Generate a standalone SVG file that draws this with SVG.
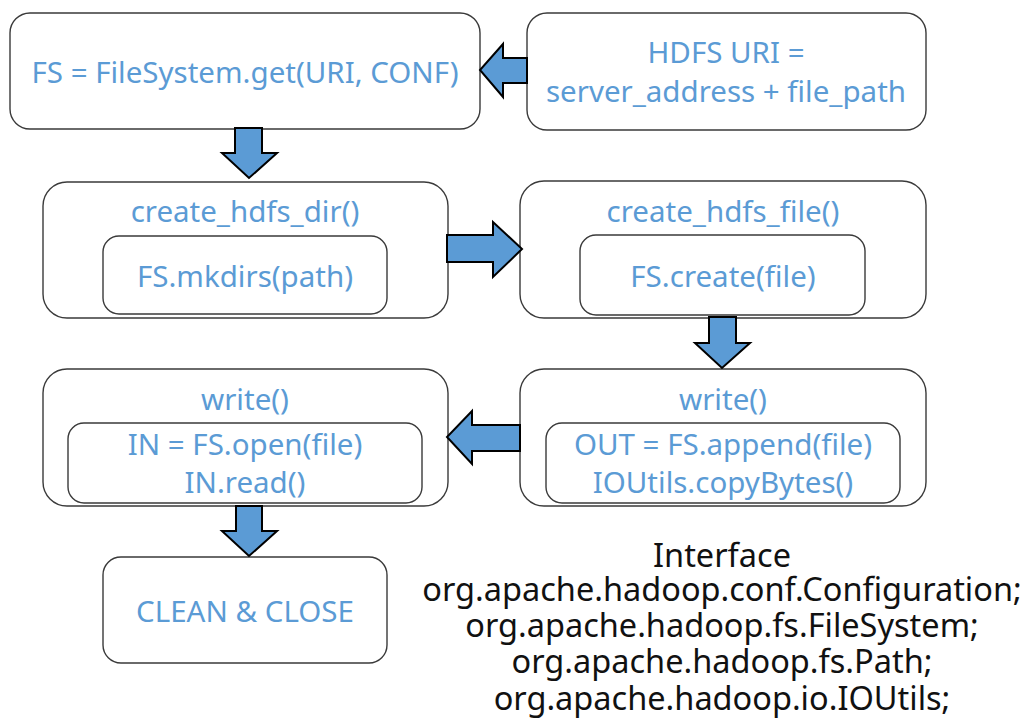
<svg xmlns="http://www.w3.org/2000/svg" width="1027" height="722" viewBox="0 0 1027 722">
  <style>
    .box { fill: #ffffff; stroke: #3a3a3a; stroke-width: 1.4; }
    .lbl { font-family: "Noto Sans", "Liberation Sans", sans-serif; font-size: 29.5px; fill: #5b9bd5; text-anchor: middle; }
    .note { font-family: "Noto Sans", "Liberation Sans", sans-serif; font-size: 32.5px; fill: #111111; text-anchor: middle; }
    .arrow { fill: #5b9bd5; stroke: #000000; stroke-width: 2; stroke-linejoin: miter; }
  </style>
  <rect width="1027" height="722" fill="#ffffff"/>

  <g id="fs-get">
    <rect class="box" x="10" y="13" width="470" height="116" rx="20"/>
    <text class="lbl" x="245" y="83">FS = FileSystem.get(URI, CONF)</text>
  </g>

  <g id="hdfs-uri">
    <rect class="box" x="527" y="13" width="399" height="117" rx="20"/>
    <text class="lbl" x="726" y="63">HDFS URI =</text>
    <text class="lbl" x="726" y="102">server_address + file_path</text>
  </g>

  <g id="create-dir">
    <rect class="box" x="43" y="182" width="405" height="136" rx="24"/>
    <text class="lbl" x="245" y="222">create_hdfs_dir()</text>
    <rect class="box" x="103" y="236" width="284" height="78" rx="16"/>
    <text class="lbl" x="245" y="287">FS.mkdirs(path)</text>
  </g>

  <g id="create-file">
    <rect class="box" x="520" y="181" width="406" height="137" rx="24"/>
    <text class="lbl" x="723" y="222">create_hdfs_file()</text>
    <rect class="box" x="580" y="235" width="285" height="80" rx="16"/>
    <text class="lbl" x="723" y="287">FS.create(file)</text>
  </g>

  <g id="write-out">
    <rect class="box" x="520" y="369" width="406" height="137" rx="24"/>
    <text class="lbl" x="723" y="410">write()</text>
    <rect class="box" x="546" y="423" width="354" height="80" rx="16"/>
    <text class="lbl" x="723" y="455">OUT = FS.append(file)</text>
    <text class="lbl" x="723" y="493">IOUtils.copyBytes()</text>
  </g>

  <g id="write-in">
    <rect class="box" x="43" y="369" width="405" height="137" rx="24"/>
    <text class="lbl" x="245" y="410">write()</text>
    <rect class="box" x="68" y="423" width="354" height="80" rx="16"/>
    <text class="lbl" x="245" y="455">IN = FS.open(file)</text>
    <text class="lbl" x="245" y="493">IN.read()</text>
  </g>

  <g id="clean-close">
    <rect class="box" x="103" y="557" width="284" height="106" rx="18"/>
    <text class="lbl" x="245" y="622">CLEAN &amp; CLOSE</text>
  </g>

  <g id="connectors">
    <!-- URI feeds FileSystem.get -->
    <polygon class="arrow" points="527,58 503,58 503,44 480,70 503,97 503,83 527,83"/>
    <!-- get -> create dir -->
    <polygon class="arrow" points="235,128 262,128 262,153 277,153 249,178 222,153 235,153"/>
    <!-- dir -> file -->
    <polygon class="arrow" points="447,235 493,235 493,222 522,249 493,277 493,262 447,262"/>
    <!-- file -> write out -->
    <polygon class="arrow" points="709,317 736,317 736,343 750,343 722,368 695,343 709,343"/>
    <!-- write out -> write in -->
    <polygon class="arrow" points="520,425 472,425 472,411 447,437 472,464 472,451 520,451"/>
    <!-- write in -> clean & close -->
    <polygon class="arrow" points="236,506 262,506 262,531 277,531 249,556 222,531 236,531"/>
  </g>

  <g id="interface-note">
    <text class="note" x="722" y="567">Interface</text>
    <text class="note" x="722" y="601">org.apache.hadoop.conf.Configuration;</text>
    <text class="note" x="722" y="637">org.apache.hadoop.fs.FileSystem;</text>
    <text class="note" x="722" y="673">org.apache.hadoop.fs.Path;</text>
    <text class="note" x="722" y="710">org.apache.hadoop.io.IOUtils;</text>
  </g>
</svg>
